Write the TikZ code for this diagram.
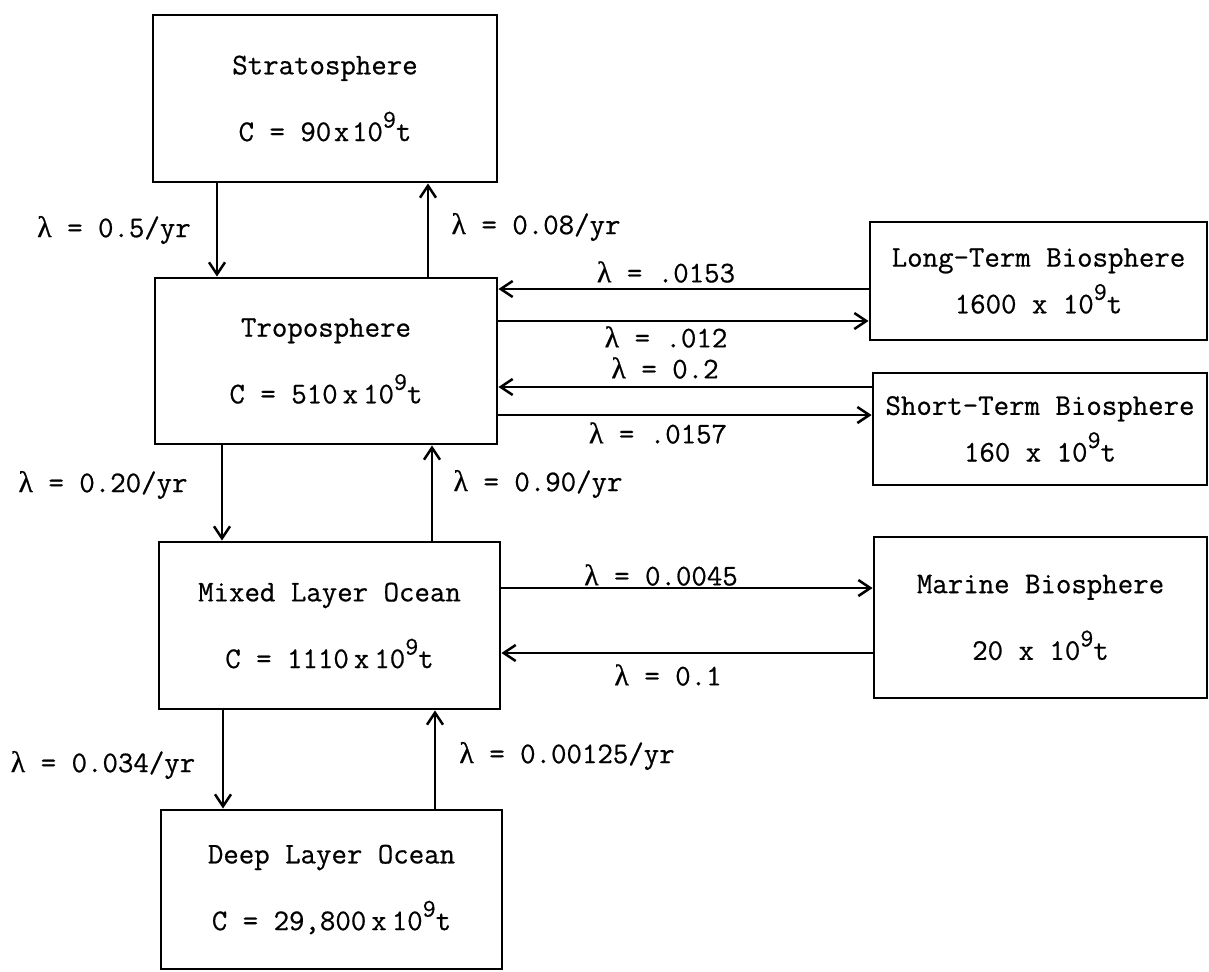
\RequirePackage{fix-cm}
\documentclass[tikz,border=0pt]{standalone}
\usepackage{fontspec}
\usetikzlibrary{arrows.meta}
\newfontfamily\twfont{Latin Modern Mono}[FakeBold=0.6]
\newfontfamily\gkfont{Liberation Serif}[FakeBold=0.6]
\newcommand{\nine}{\smash{\raisebox{0.45em}{\fontsize{19}{19}\selectfont 9}}}
\newcommand{\lam}{{\gkfont λ}}
\begin{document}
\begin{tikzpicture}[x=0.75pt,y=-0.75pt,
  every node/.style={font=\fontsize{22.5}{27}\selectfont\twfont},
  box/.style={draw,line width=2.1pt,inner sep=0pt,align=center},
  arr/.style={line width=1.9pt,-{Straight Barb[length=9pt,width=12pt]}},
  lab/.style={inner sep=0pt}]
\useasboundingbox (0,0) rectangle (1209,971);

% left column
\node[box,minimum width=258pt,minimum height=125.25pt] (strat) at (325,98.5)
  {Stratosphere\\[23pt]C = 90\kern2pt x\kern2pt 10\nine t};
\node[box,minimum width=256.5pt,minimum height=124.5pt] (trop) at (326,361)
  {Troposphere\\[23pt]C = 510\,x\,10\nine t};
\node[box,minimum width=255.75pt,minimum height=125.25pt] (mixed) at (329.5,625.5)
  {Mixed Layer Ocean\\[23pt]C = 1110\,x\,10\nine t};
\node[box,minimum width=255.75pt,minimum height=119.25pt] (deep) at (331.5,889.5)
  {Deep Layer Ocean\\[23pt]C = 29,800\,x\,10\nine t};

% right column
\node[box,minimum width=252.75pt,minimum height=88.5pt] (lt) at (1038.5,281)
  {Long-Term Biosphere\\[8pt]1600 x 10\nine t};
\node[box,minimum width=250.5pt,minimum height=84pt] (st) at (1040,429)
  {Short-Term Biosphere\\[8pt]160 x 10\nine t};
\node[box,minimum width=249.75pt,minimum height=120.75pt] (marine) at (1040.5,617.5)
  {Marine Biosphere\\[23pt]20 x 10\nine t};

% vertical connector positions
\coordinate (a1) at (217,0);
\coordinate (a2) at (428,0);
\coordinate (a3) at (222,0);
\coordinate (a4) at (432,0);
\coordinate (a5) at (223,0);
\coordinate (a6) at (435,0);
\draw[arr] (strat.south -| a1) -- (trop.north -| a1);
\draw[arr] (trop.north -| a2) -- (strat.south -| a2);
\draw[arr] (trop.south -| a3) -- (mixed.north -| a3);
\draw[arr] (mixed.north -| a4) -- (trop.south -| a4);
\draw[arr] (mixed.south -| a5) -- (deep.north -| a5);
\draw[arr] (deep.north -| a6) -- (mixed.south -| a6);

% horizontal connector positions
\coordinate (h1) at (0,289);
\coordinate (h2) at (0,321);
\coordinate (h3) at (0,387);
\coordinate (h4) at (0,415);
\coordinate (h5) at (0,588);
\coordinate (h6) at (0,653);
\draw[arr] (lt.west |- h1) -- (trop.east |- h1);
\draw[arr] (trop.east |- h2) -- (lt.west |- h2);
\draw[arr] (st.west |- h3) -- (trop.east |- h3);
\draw[arr] (trop.east |- h4) -- (st.west |- h4);
\draw[arr] (mixed.east |- h5) -- (marine.west |- h5);
\draw[arr] (marine.west |- h6) -- (mixed.east |- h6);

% labels
\node[lab] (l1) at (114,230) {\lam{} = 0.5/yr};
\node[lab] (l2) at (536,227) {\lam{} = 0.08/yr};
\node[lab] (l3) at (103,485) {\lam{} = 0.20/yr};
\node[lab] (l4) at (538,484) {\lam{} = 0.90/yr};
\node[lab] (l5) at (103,765) {\lam{} = 0.034/yr};
\node[lab] (l6) at (567,756) {\lam{} = 0.00125/yr};
\node[lab] (l7) at (666,272) {\lam{} = .0153};
\node[lab] (l8) at (666,337) {\lam{} = .012};
\node[lab] (l9) at (665,368) {\lam{} = 0.2};
\node[lab] (l10) at (658,433) {\lam{} = .0157};
\node[lab] (l11) at (661,575) {\lam{} = 0.0045};
\node[lab] (l12) at (668,675) {\lam{} = 0.1};
\end{tikzpicture}
\end{document}
